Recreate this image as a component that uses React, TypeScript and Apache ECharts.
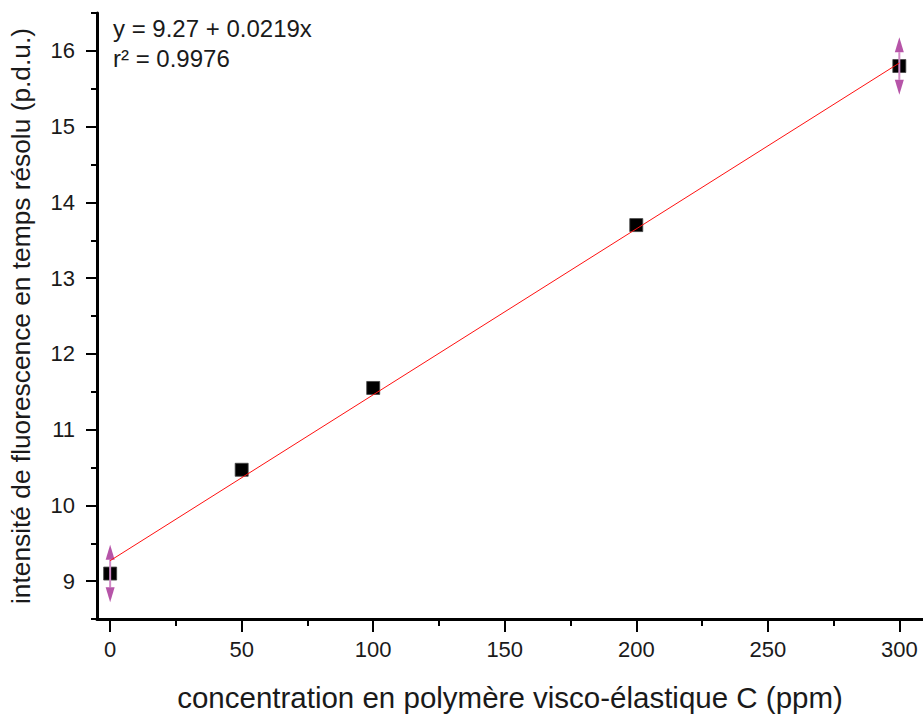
import React, { useEffect, useRef } from "react";
import * as echarts from "echarts";

const concentrations = [0, 50, 100, 200, 300];
const intensities = [9.1, 10.47, 11.55, 13.7, 15.8];
const errorValues = [0.38, 0, 0, 0, 0.38];
const fitIntercept = 9.27;
const fitSlope = 0.0219;
const fitRange = [0, 300];
const equationLines = ["y = 9.27 + 0.0219x", "r² = 0.9976"];
const xMajorTicks = [0, 50, 100, 150, 200, 250, 300];
const xMinorTicks = [25, 75, 125, 175, 225, 275];
const yMajorTicks = [9, 10, 11, 12, 13, 14, 15, 16];
const yMinorTicks = [8.5, 9.5, 10.5, 11.5, 12.5, 13.5, 14.5, 15.5, 16.5];

const FONT = "Liberation Sans, Arial, sans-serif";
const TEXT = "#1a1a1a";

export default function App() {
  const ref = useRef<HTMLDivElement>(null);
  useEffect(() => {
    if (!ref.current) return;
    const chart = echarts.init(ref.current, null, { renderer: "svg" });
    const points = concentrations.map((c, i) => [c, intensities[i]]);
    const errData = concentrations
      .map((c, i) => [c, intensities[i], errorValues[i]])
      .filter((d) => d[2] > 0);
    const fitData = fitRange.map((x) => [x, fitIntercept + fitSlope * x]);
    const tickLine = { color: "#000", width: 2 };
    chart.setOption({
      animation: false,
      backgroundColor: "#ffffff",
      grid: { left: 97, top: 13, right: 0, bottom: 94, containLabel: false },
      xAxis: [
        {
          type: "value",
          min: -5,
          max: 309,
          name: "concentration en polymère visco-élastique C (ppm)",
          nameLocation: "middle",
          nameGap: 63,
          nameTextStyle: { fontFamily: FONT, fontSize: 29.5, color: TEXT },
          axisLine: { show: true, onZero: false, lineStyle: { color: "#000", width: 3 } },
          axisTick: { show: true, length: 13, inside: false, lineStyle: tickLine, customValues: xMajorTicks },
          axisLabel: { fontFamily: FONT, fontSize: 22, color: TEXT, margin: 19, customValues: xMajorTicks },
          splitLine: { show: false },
        },
        {
          type: "value",
          min: -5,
          max: 309,
          position: "bottom",
          axisLine: { show: false, onZero: false },
          axisTick: { show: true, length: 7, lineStyle: tickLine, customValues: xMinorTicks },
          axisLabel: { show: false },
          splitLine: { show: false },
        },
      ],
      yAxis: [
        {
          type: "value",
          min: 8.5,
          max: 16.5,
          name: "intensité de fluorescence en temps résolu (p.d.u.)",
          nameLocation: "middle",
          nameGap: 63,
          nameRotate: 90,
          nameTextStyle: { fontFamily: FONT, fontSize: 26.3, color: TEXT },
          axisLine: { show: true, onZero: false, lineStyle: { color: "#000", width: 3 } },
          axisTick: { show: true, length: 11, lineStyle: tickLine, customValues: yMajorTicks },
          axisLabel: { fontFamily: FONT, fontSize: 22, color: TEXT, margin: 22, customValues: yMajorTicks },
          splitLine: { show: false },
        },
        {
          type: "value",
          min: 8.5,
          max: 16.5,
          position: "left",
          axisLine: { show: false, onZero: false },
          axisTick: { show: true, length: 6, lineStyle: tickLine, customValues: yMinorTicks },
          axisLabel: { show: false },
          splitLine: { show: false },
        },
      ],
      series: [
        {
          type: "custom",
          name: "errors",
          data: errData,
          z: 3,
          renderItem: (params: any, api: any) => {
            const x = api.value(0);
            const y = api.value(1);
            const e = api.value(2);
            const top = api.coord([x, y + e]);
            const bot = api.coord([x, y - e]);
            const h = 15;
            const w = 4.5;
            const color = "#b654a8";
            return {
              type: "group",
              children: [
                {
                  type: "line",
                  shape: { x1: top[0], y1: top[1] + h, x2: bot[0], y2: bot[1] - h },
                  style: { stroke: "#d08ac6", lineWidth: 2 },
                },
                {
                  type: "polygon",
                  shape: { points: [[top[0], top[1]], [top[0] - w, top[1] + h], [top[0] + w, top[1] + h]] },
                  style: { fill: color },
                },
                {
                  type: "polygon",
                  shape: { points: [[bot[0], bot[1]], [bot[0] - w, bot[1] - h], [bot[0] + w, bot[1] - h]] },
                  style: { fill: color },
                },
              ],
            };
          },
        },
        {
          type: "scatter",
          data: points,
          symbol: "rect",
          symbolSize: 13,
          z: 2,
          itemStyle: { color: "#000", borderColor: "#444", borderWidth: 0.8, opacity: 1 },
        },
        {
          type: "line",
          data: fitData,
          symbol: "none",
          z: 4,
          lineStyle: { color: "#ff1010", width: 1 },
        },
      ],
      graphic: [
        {
          type: "text",
          left: 113,
          top: 13,
          style: {
            text: equationLines.join("\n"),
            fontFamily: FONT,
            fontSize: 24,
            lineHeight: 30,
            fill: TEXT,
          },
        },
      ],
    });
    return () => chart.dispose();
  }, []);
  return (
    <div
      ref={ref}
      style={{ position: "fixed", left: 0, top: 0, width: 923, height: 717, background: "#fff" }}
    />
  );
}
